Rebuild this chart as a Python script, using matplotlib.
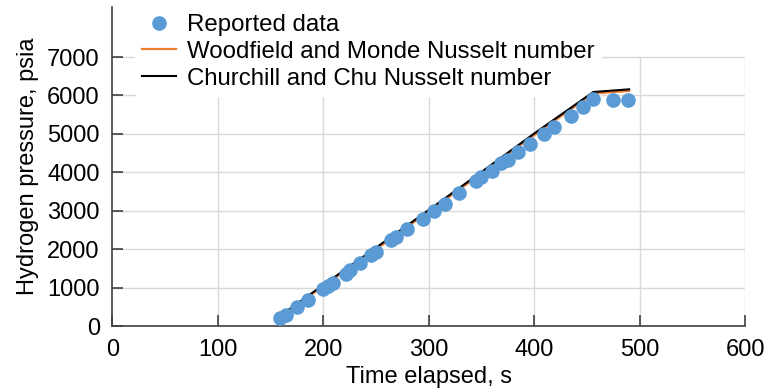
import matplotlib
matplotlib.use('Agg')
import matplotlib.pyplot as plt

plt.rcParams['font.family'] = ['Liberation Sans', 'DejaVu Sans']

# reported pressure during filling
time_data = [159, 164.5, 175.4, 185.5, 199.7, 204.5, 209.2, 221.3, 225, 234.6,
             245.6, 250.4, 264.6, 269.4, 279.5, 294.7, 304.8, 315, 329, 344.7,
             350, 359.6, 369, 375, 384.5, 396.3, 409.3, 418.8, 434.5, 446,
             456, 474.4, 489.3]
pressure_data = [220, 280, 495, 690, 957, 1035, 1120, 1367, 1453, 1645,
                 1845, 1930, 2236, 2306, 2515, 2784, 3000, 3167, 3470, 3783,
                 3871, 4044, 4237, 4330, 4535, 4740, 5010, 5176, 5465, 5698,
                 5900, 5888, 5870]

# model predictions
time_model = [160, 170, 200, 250, 300, 350, 400, 456, 490]
woodfield = [260, 450, 1040, 2000, 2980, 3970, 4970, 6050, 6120]
churchill = [290, 480, 1070, 2040, 3020, 4010, 5010, 6090, 6160]

x_ticks = [0, 100, 200, 300, 400, 500, 600]
y_ticks = [0, 1000, 2000, 3000, 4000, 5000, 6000, 7000]

fig = plt.figure(figsize=(7.69, 3.92), dpi=100)
ax = fig.add_axes([0.146, 0.168, 0.823, 0.814])

ax.plot(time_data, pressure_data, 'o', color='#5B9BD5', markersize=9.5,
        label='Reported data', zorder=4)
ax.plot(time_model, woodfield, color='#ED7D31', lw=1.6,
        label='Woodfield and Monde Nusselt number', zorder=3)
ax.plot(time_model, churchill, color='black', lw=1.5,
        label='Churchill and Chu Nusselt number', zorder=3)

ax.set_xlim(0, 600)
ax.set_ylim(0, 8300)
ax.set_xticks(x_ticks)
ax.set_yticks(y_ticks)

# plot area grid stops at the top tick
ax.yaxis.grid(True, color='#d9d9d9', lw=1.0, zorder=0)
ax.vlines(x_ticks[1:], 0, y_ticks[-1], color='#d9d9d9', lw=1.0, zorder=0)
ax.set_axisbelow(True)

for side in ['top', 'right']:
    ax.spines[side].set_visible(False)
for side in ['left', 'bottom']:
    ax.spines[side].set_color('#404040')
    ax.spines[side].set_linewidth(1.2)

ax.tick_params(direction='in', length=8, width=1.2, color='#404040',
               labelsize=17, pad=9)

ax.set_xlabel('Time elapsed, s', fontsize=17, labelpad=4)
ax.set_ylabel('Hydrogen pressure, psia', fontsize=17, labelpad=6)

# legend sits over the grid but under the curves
leg = ax.legend(loc='upper left', bbox_to_anchor=(0.036, 1.001), fontsize=17.3,
                frameon=True, framealpha=1, edgecolor='none',
                labelspacing=0.2, handlelength=1.4, handletextpad=0.45,
                borderpad=0.3, borderaxespad=0)
leg.set_zorder(2.6)

fig.savefig('out.png', dpi=100)
